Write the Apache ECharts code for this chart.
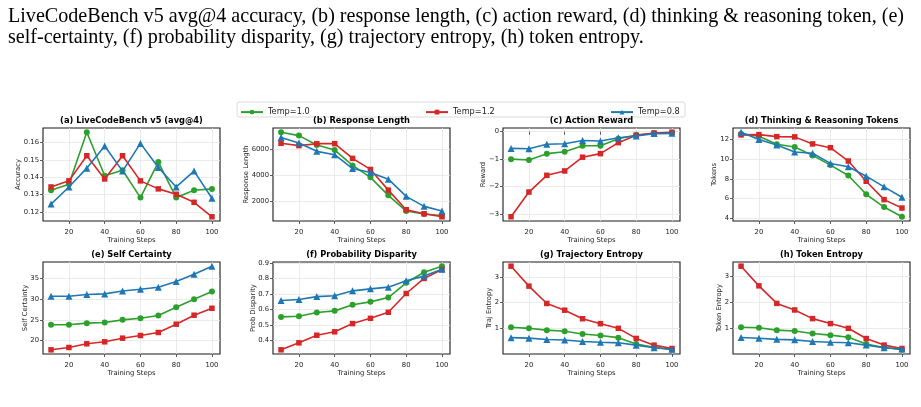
<html>

<head>
  <script src="https://cdn.jsdelivr.net/npm/echarts@6/dist/echarts.min.js"></script>
</head>

<body style="margin:0;background:#fff">
  <div id="main" style="width: 921px;height:407px;"></div>
  <script>
    var steps = [10, 20, 30, 40, 50, 60, 70, 80, 90, 100];
    var xTicks = [20, 40, 60, 80, 100];

    // (a) accuracy
    var accT10 = [0.1325, 0.136, 0.1658, 0.1408, 0.144, 0.1283, 0.1487, 0.1283, 0.1325, 0.1333];
    var accT12 = [0.1344, 0.1379, 0.1523, 0.139, 0.1523, 0.1379, 0.1333, 0.1302, 0.1256, 0.1173];
    var accT08 = [0.1246, 0.1344, 0.1452, 0.1579, 0.1435, 0.1594, 0.1456, 0.1344, 0.1435, 0.1279];
    // (b) response length
    var lenT10 = [7290, 7030, 6310, 5920, 4740, 3820, 2440, 1230, 1000, 890];
    var lenT12 = [6440, 6260, 6410, 6410, 5280, 4430, 2840, 1330, 1020, 790];
    var lenT08 = [6880, 6460, 5820, 5560, 4500, 4190, 3680, 2360, 1590, 1230];
    // (c) action reward
    var rewT10 = [-1.0, -1.03, -0.8, -0.73, -0.51, -0.51, -0.26, -0.12, -0.06, -0.04];
    var rewT12 = [-3.1, -2.2, -1.59, -1.43, -0.93, -0.8, -0.4, -0.13, -0.05, -0.02];
    var rewT08 = [-0.61, -0.62, -0.46, -0.44, -0.32, -0.34, -0.22, -0.16, -0.07, -0.06];
    // (d) thinking & reasoning tokens
    var tokT10 = [12.54, 12.3, 11.5, 11.22, 10.37, 9.39, 8.34, 6.44, 5.15, 4.17];
    var tokT12 = [12.44, 12.47, 12.27, 12.24, 11.53, 11.15, 9.8, 7.76, 5.9, 5.05];
    var tokT08 = [12.71, 11.97, 11.42, 10.71, 10.58, 9.56, 9.22, 8.27, 7.19, 6.14];
    // (e) self certainty
    var scT10 = [23.8, 23.8, 24.2, 24.35, 25.0, 25.4, 26.05, 28.06, 30.0, 31.85];
    var scT12 = [17.74, 18.3, 19.2, 19.68, 20.56, 21.2, 21.94, 23.95, 26.13, 27.8];
    var scT08 = [30.73, 30.73, 31.13, 31.29, 32.0, 32.4, 32.9, 34.27, 36.05, 38.0];
    // (f) probability disparity
    var pdT10 = [0.552, 0.556, 0.58, 0.591, 0.63, 0.649, 0.677, 0.772, 0.84, 0.879];
    var pdT12 = [0.34, 0.385, 0.434, 0.456, 0.509, 0.543, 0.582, 0.703, 0.8, 0.857];
    var pdT08 = [0.658, 0.664, 0.683, 0.688, 0.72, 0.733, 0.744, 0.785, 0.815, 0.86];
    // (g) trajectory entropy
    var teT10 = [1.05, 1.01, 0.94, 0.9, 0.79, 0.73, 0.65, 0.4, 0.28, 0.18];
    var teT12 = [3.41, 2.64, 1.97, 1.71, 1.38, 1.19, 1.01, 0.62, 0.36, 0.23];
    var teT08 = [0.65, 0.63, 0.58, 0.56, 0.5, 0.47, 0.45, 0.36, 0.26, 0.2];
    // (h) token entropy
    var keT10 = [1.05, 1.03, 0.94, 0.91, 0.81, 0.75, 0.67, 0.41, 0.28, 0.19];
    var keT12 = [3.38, 2.63, 1.96, 1.71, 1.38, 1.19, 1.01, 0.62, 0.37, 0.24];
    var keT08 = [0.66, 0.63, 0.59, 0.57, 0.51, 0.48, 0.46, 0.37, 0.27, 0.22];

    var names = ['Temp=1.0', 'Temp=1.2', 'Temp=0.8'];
    var colors = ['#2ca02c', '#d62728', '#1f77b4'];
    var symbols = ['circle', 'rect', 'triangle'];

    var panels = [
      { title: '(a) LiveCodeBench v5 (avg@4)', yName: 'Accuracy', data: [accT10, accT12, accT08], ticks: [0.12, 0.13, 0.14, 0.15, 0.16], dec: 2, gap: 18.5 },
      { title: '(b) Response Length', yName: 'Response Length', data: [lenT10, lenT12, lenT08], ticks: [2000, 4000, 6000], dec: 0, gap: 20.5 },
      { title: '(c) Action Reward', yName: 'Reward', data: [rewT10, rewT12, rewT08], ticks: [-3, -2, -1, 0], dec: 0, gap: 13.5 },
      { title: '(d) Thinking & Reasoning Tokens', yName: 'Tokens', data: [tokT10, tokT12, tokT08], ticks: [4, 6, 8, 10, 12], dec: 0, gap: 12.5 },
      { title: '(e) Self Certainty', yName: 'Self Certainty', data: [scT10, scT12, scT08], ticks: [20, 25, 30, 35], dec: 0, gap: 11.5 },
      { title: '(f) Probability Disparity', yName: 'Prob Disparity', data: [pdT10, pdT12, pdT08], ticks: [0.4, 0.5, 0.6, 0.7, 0.8, 0.9], dec: 1, gap: 13.5 },
      { title: '(g) Trajectory Entropy', yName: 'Traj Entropy', data: [teT10, teT12, teT08], ticks: [1, 2, 3], dec: 0, gap: 7.5 },
      { title: '(h) Token Entropy', yName: 'Token Entropy', data: [keT10, keT12, keT08], ticks: [1, 2, 3], dec: 0, gap: 7.5 }
    ];

    var lefts = [43, 273, 503, 733];
    var tops = [128, 262];
    var heights = [93, 92];
    var font = 'DejaVu Sans';

    var myChart = echarts.init(document.getElementById('main'));
    var grids = [], xAxes = [], yAxes = [], seriesList = [], graphics = [];

    panels.forEach(function (p, i) {
      var col = i % 4, row = Math.floor(i / 4);
      grids.push({
        left: lefts[col], top: tops[row], width: 177, height: heights[row],
        show: true, borderColor: '#1a1a1a', borderWidth: 1.1, backgroundColor: 'transparent'
      });
      xAxes.push({
        gridIndex: i, type: 'value', min: 5.5, max: 104.5,
        name: 'Training Steps', nameLocation: 'middle', nameGap: 12, nameMoveOverlap: false,
        nameTextStyle: { fontSize: 6.8, fontFamily: font, color: '#222' },
        axisLine: { show: false },
        axisTick: { show: true, length: 3, customValues: xTicks, lineStyle: { color: '#333', width: 0.8 } },
        axisLabel: { customValues: xTicks, fontSize: 6.8, fontFamily: font, color: '#222', margin: 4 },
        splitLine: { show: true, lineStyle: { color: '#e6e6e6', width: 0.8 } }
      });
      var dec = p.dec;
      yAxes.push({
        gridIndex: i, type: 'value', scale: true,
        min: function (v) { return v.min - (v.max - v.min) * 0.05; },
        max: function (v) { return v.max + (v.max - v.min) * 0.05; },
        name: p.yName, nameLocation: 'middle', nameRotate: 90, nameGap: p.gap, nameMoveOverlap: false,
        nameTextStyle: { fontSize: 6.8, fontFamily: font, color: '#222' },
        axisLine: { show: false },
        axisTick: { show: true, length: 3, customValues: p.ticks, lineStyle: { color: '#333', width: 0.8 } },
        axisLabel: {
          customValues: p.ticks, fontSize: 6.8, fontFamily: font, color: '#222', margin: 4,
          formatter: function (v) { return v.toFixed(dec).replace('-', '\u2212'); }
        },
        splitLine: { show: true, lineStyle: { color: '#e6e6e6', width: 0.8 } }
      });
      p.data.forEach(function (vals, k) {
        seriesList.push({
          name: names[k], type: 'line', xAxisIndex: i, yAxisIndex: i,
          data: steps.map(function (s, j) { return [s, vals[j]]; }),
          symbol: symbols[k], symbolSize: [6, 5.5, 7][k],
          itemStyle: { color: colors[k] },
          lineStyle: { color: colors[k], width: 1.6 },
          animation: false, z: 2 + k
        });
      });
      graphics.push({
        type: 'text', x: lefts[col] + 88.5, y: tops[row] - 7,
        style: { text: p.title, font: 'bold 8.3px "DejaVu Sans"', fill: '#000', align: 'center', verticalAlign: 'middle' }
      });
    });

    // caption lines
    graphics.push({
      type: 'text', x: 8, y: 17,
      style: { text: 'LiveCodeBench v5 avg@4 accuracy, (b) response length, (c) action reward, (d) thinking & reasoning token, (e)', font: '20.1px "Liberation Serif"', fill: '#000', verticalAlign: 'middle' }
    });
    graphics.push({
      type: 'text', x: 8, y: 38,
      style: { text: 'self-certainty, (f) probability disparity, (g) trajectory entropy, (h) token entropy.', font: '20.1px "Liberation Serif"', fill: '#000', verticalAlign: 'middle' }
    });
    // legend frame
    graphics.push({
      type: 'rect', shape: { x: 237, y: 102, width: 448, height: 15, r: 2 },
      style: { fill: '#fff', stroke: '#d0d0d0', lineWidth: 0.8 }, z: -1
    });

    var legendX = [240, 425, 610];
    var legends = names.map(function (n, k) {
      return {
        data: [n], left: legendX[k], top: 104, padding: 0,
        itemWidth: 22, itemHeight: 6, itemGap: 0,
        textStyle: { fontSize: 8.2, fontFamily: font, color: '#222', padding: [0, 0, 0, 0] }
      };
    });

    option = {
      animation: false,
      grid: grids,
      xAxis: xAxes,
      yAxis: yAxes,
      legend: legends,
      graphic: graphics,
      series: seriesList
    };

    myChart.setOption(option);

  </script>
</body>

</html>
